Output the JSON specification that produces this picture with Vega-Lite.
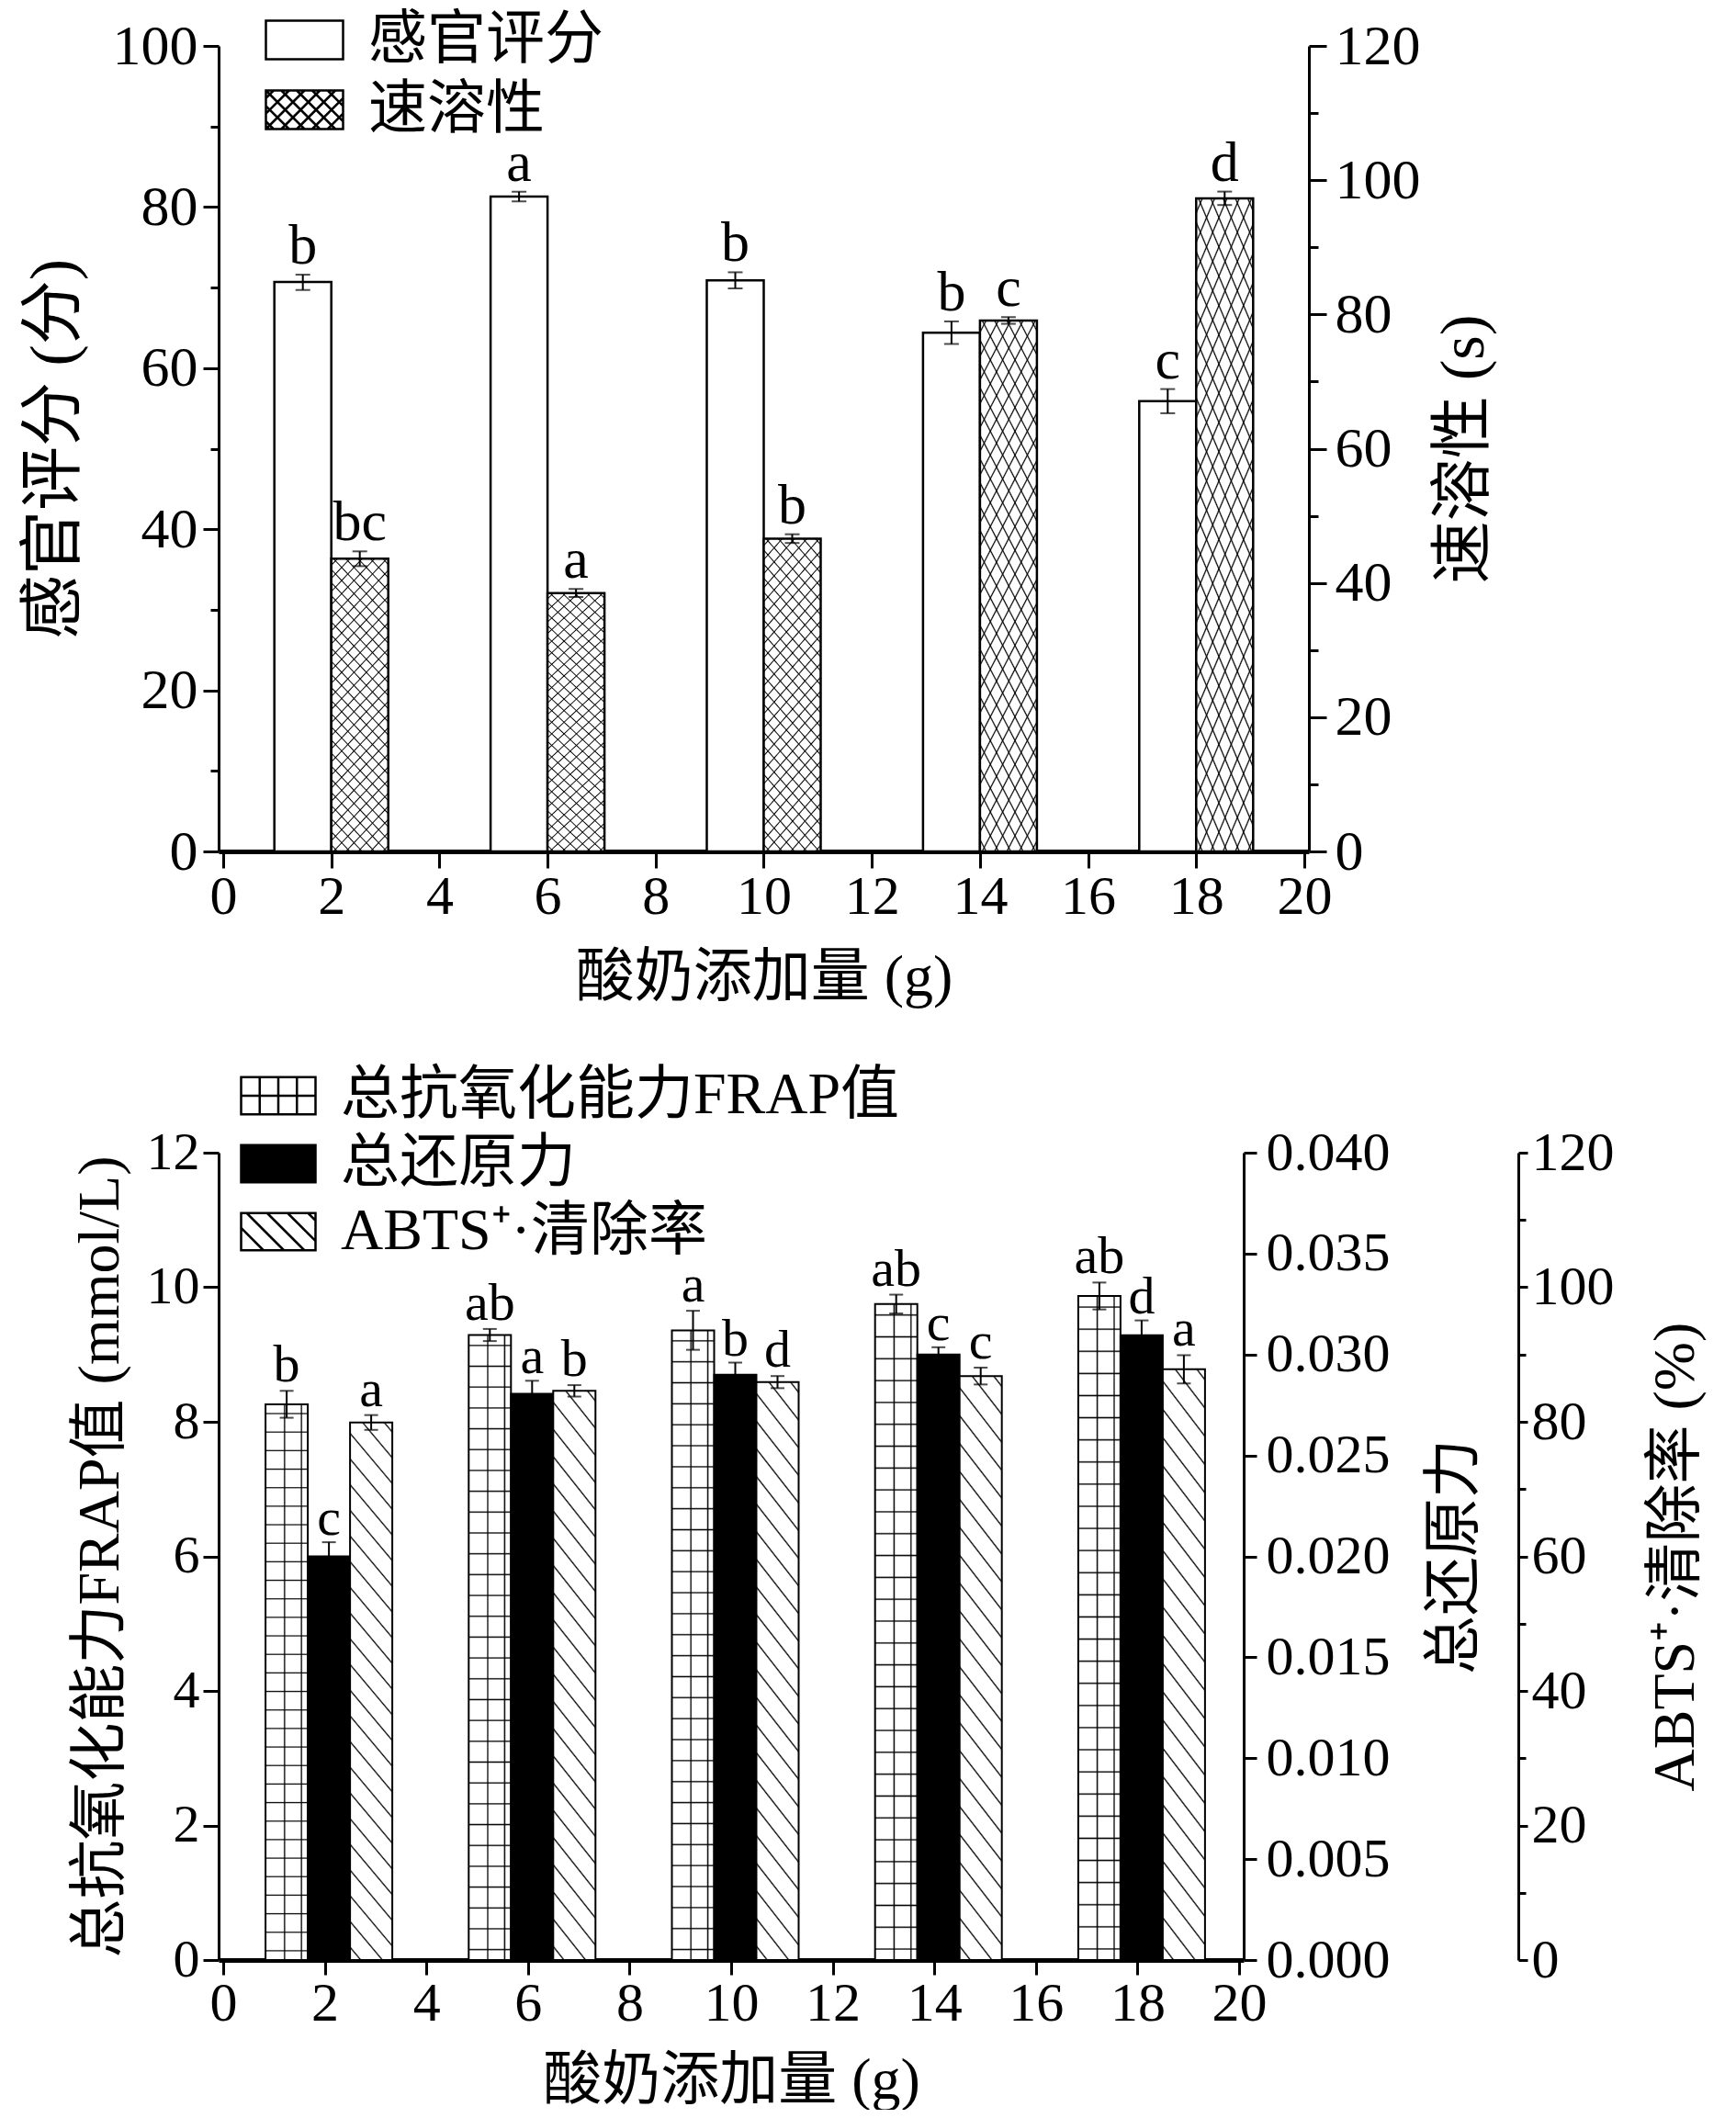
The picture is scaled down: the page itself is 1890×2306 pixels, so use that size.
{
"$schema": "https://vega.github.io/schema/vega-lite/v6.json",
"background": "white",
"padding": {"left": 24, "top": 0, "right": 5, "bottom": 0},
"config": {
  "view": {"stroke": null},
  "font": "Liberation Serif, Noto Sans CJK SC",
  "axis": {"domainColor": "black", "domainWidth": 3, "tickColor": "black", "tickWidth": 3, "tickSize": 17, "labelColor": "black", "labelFont": "Liberation Serif", "labelFontSize": 60, "labelPadding": 6, "labelFlush": false, "labelOverlap": false, "labelBound": false, "titleColor": "black", "titleFont": "Liberation Serif, Noto Sans CJK SC", "titleFontSize": 64, "titleFontWeight": "normal", "grid": false, "zindex": 1},
  "legend": {"orient": "none", "title": null, "padding": 0, "labelFont": "Liberation Serif, Noto Sans CJK SC", "labelFontSize": 64, "labelColor": "black", "labelLimit": 0, "symbolStrokeColor": "black", "symbolStrokeWidth": 2.5, "symbolType": "M-1,-0.5H1V0.5H-1Z", "rowPadding": 0, "labelOffset": 26, "symbolOpacity": 1}
},
"datasets": {
  "top": [
    {"dose": 2, "series": "感官评分", "value": 70.7, "lo": 69.7, "hi": 71.6, "sig": "b"},
    {"dose": 6, "series": "感官评分", "value": 81.3, "lo": 80.7, "hi": 81.9, "sig": "a"},
    {"dose": 10, "series": "感官评分", "value": 70.9, "lo": 69.9, "hi": 71.9, "sig": "b"},
    {"dose": 14, "series": "感官评分", "value": 64.4, "lo": 63.0, "hi": 65.8, "sig": "b"},
    {"dose": 18, "series": "感官评分", "value": 55.9, "lo": 54.4, "hi": 57.4, "sig": "c"},
    {"dose": 2, "series": "速溶性", "value": 43.6, "lo": 42.5, "hi": 44.7, "sig": "bc"},
    {"dose": 6, "series": "速溶性", "value": 38.5, "lo": 37.9, "hi": 39.1, "sig": "a"},
    {"dose": 10, "series": "速溶性", "value": 46.6, "lo": 45.95, "hi": 47.25, "sig": "b"},
    {"dose": 14, "series": "速溶性", "value": 79.1, "lo": 78.6, "hi": 79.6, "sig": "c"},
    {"dose": 18, "series": "速溶性", "value": 97.3, "lo": 96.3, "hi": 98.3, "sig": "d"}
  ],
  "bottom": [
    {"dose": 2, "series": "总抗氧化能力FRAP值", "value": 8.26, "lo": 8.06, "hi": 8.46, "sig": "b"},
    {"dose": 6, "series": "总抗氧化能力FRAP值", "value": 9.29, "lo": 9.2, "hi": 9.38, "sig": "ab"},
    {"dose": 10, "series": "总抗氧化能力FRAP值", "value": 9.36, "lo": 9.07, "hi": 9.65, "sig": "a"},
    {"dose": 14, "series": "总抗氧化能力FRAP值", "value": 9.75, "lo": 9.61, "hi": 9.89, "sig": "ab"},
    {"dose": 18, "series": "总抗氧化能力FRAP值", "value": 9.87, "lo": 9.67, "hi": 10.07, "sig": "ab"},
    {"dose": 2, "series": "总还原力", "value": 0.0200, "lo": 0.0193, "hi": 0.0207, "sig": "c"},
    {"dose": 6, "series": "总还原力", "value": 0.02805, "lo": 0.0274, "hi": 0.0287, "sig": "a"},
    {"dose": 10, "series": "总还原力", "value": 0.0290, "lo": 0.0284, "hi": 0.0296, "sig": "b"},
    {"dose": 14, "series": "总还原力", "value": 0.0300, "lo": 0.02964, "hi": 0.03036, "sig": "c"},
    {"dose": 18, "series": "总还原力", "value": 0.03096, "lo": 0.03023, "hi": 0.03169, "sig": "d"},
    {"dose": 2, "series": "ABTS⁺·清除率", "value": 79.9, "lo": 78.8, "hi": 81.0, "sig": "a"},
    {"dose": 6, "series": "ABTS⁺·清除率", "value": 84.6, "lo": 83.75, "hi": 85.45, "sig": "b"},
    {"dose": 10, "series": "ABTS⁺·清除率", "value": 85.9, "lo": 85.0, "hi": 86.8, "sig": "d"},
    {"dose": 14, "series": "ABTS⁺·清除率", "value": 86.8, "lo": 85.55, "hi": 88.05, "sig": "c"},
    {"dose": 18, "series": "ABTS⁺·清除率", "value": 87.8, "lo": 85.7, "hi": 89.9, "sig": "a"}
  ]
},
"spacing": 55,
"resolve": {"scale": {"fill": "independent"}, "legend": {"fill": "independent"}},
"vconcat": [
{
  "width": 1187, "height": 877,
  "resolve": {"scale": {"y": "independent"}},
  "encoding": {"x": {"field": "dose", "type": "quantitative", "scale": {"domain": [0, 20], "nice": false}, "axis": {"orient": "bottom", "values": [0, 2, 4, 6, 8, 10, 12, 14, 16, 18, 20], "title": "酸奶添加量 (g)", "tickSize": 18, "labelPadding": 2, "titlePadding": 26, "domainWidth": 5}}},
  "layer": [
    {
      "data": {"name": "top"},
      "transform": [{"filter": "datum.series === '感官评分'"}],
      "layer": [
        {"mark": {"type": "bar", "stroke": "black", "strokeWidth": 2.5, "width": 62, "xOffset": -31},
         "encoding": {
           "y": {"field": "value", "type": "quantitative", "scale": {"domain": [0, 100]}, "axis": null},
           "fill": {"field": "series", "type": "nominal", "scale": {"domain": ["感官评分", "速溶性"], "range": ["white", "white"]},
             "legend": {"legendX": 50, "legendY": -50, "symbolSize": 7056, "rowPadding": -5,
               "encoding": {"symbols": {"shape": {"value": "M-1,-0.5H1V0.5H-1Z", "condition": {"test": "datum.value === '速溶性'", "value": "M-1,-0.5H1V0.5H-1Z M-1,0.3L-0.8,0.5 M-1,-0.1L-0.4,0.5 M-1,-0.5L0,0.5 M-0.6,-0.5L0.4,0.5 M-0.2,-0.5L0.8,0.5 M0.2,-0.5L1,0.3 M0.6,-0.5L1,-0.1 M-1,-0.3L-0.8,-0.5 M-1,0.1L-0.4,-0.5 M-1,0.5L0,-0.5 M-0.6,0.5L0.4,-0.5 M-0.2,0.5L0.8,-0.5 M0.2,0.5L1,-0.3 M0.6,0.5L1,0.1"}}}}}}
         }},
        {"mark": {"type": "rule", "color": "black", "strokeWidth": 2, "xOffset": -31}, "encoding": {"y": {"field": "lo", "type": "quantitative", "axis": null}, "y2": {"field": "hi"}}},
        {"mark": {"type": "tick", "orient": "horizontal", "color": "black", "size": 16, "thickness": 2, "xOffset": -31}, "encoding": {"y": {"field": "lo", "type": "quantitative", "axis": null}}},
        {"mark": {"type": "tick", "orient": "horizontal", "color": "black", "size": 16, "thickness": 2, "xOffset": -31}, "encoding": {"y": {"field": "hi", "type": "quantitative", "axis": null}}},
        {"mark": {"type": "text", "font": "Liberation Serif", "fontSize": 62, "color": "black", "baseline": "alphabetic", "dy": -12, "xOffset": -31}, "encoding": {"y": {"field": "hi", "type": "quantitative", "axis": null}, "text": {"field": "sig"}}}
      ]
    },
    {
      "data": {"name": "top"},
      "transform": [{"filter": "datum.series === '速溶性'"}],
      "layer": [
        {"mark": {"type": "bar", "strokeWidth": 0, "width": 62, "xOffset": 31},
         "encoding": {
           "y": {"field": "value", "type": "quantitative", "scale": {"domain": [0, 120]}, "axis": null},
           "fill": {"field": "series", "type": "nominal", "scale": {"domain": ["感官评分", "速溶性"], "range": ["white", "white"]}, "legend": null}
         }},
        {"mark": {"type": "bar", "strokeWidth": 0, "width": 62, "xOffset": 31, "fill": {"gradient": "linear", "x1": 0, "y1": 0, "x2": 0.24, "y2": 1.16, "stops": [
          {"offset":0.0148,"color":"rgba(0,0,0,0)"},{"offset":0.0185,"color":"#000"},{"offset":0.0222,"color":"rgba(0,0,0,0)"},
          {"offset":0.0519,"color":"rgba(0,0,0,0)"},{"offset":0.0556,"color":"#000"},{"offset":0.0593,"color":"rgba(0,0,0,0)"},
          {"offset":0.0889,"color":"rgba(0,0,0,0)"},{"offset":0.0926,"color":"#000"},{"offset":0.0963,"color":"rgba(0,0,0,0)"},
          {"offset":0.1259,"color":"rgba(0,0,0,0)"},{"offset":0.1296,"color":"#000"},{"offset":0.1333,"color":"rgba(0,0,0,0)"},
          {"offset":0.1630,"color":"rgba(0,0,0,0)"},{"offset":0.1667,"color":"#000"},{"offset":0.1704,"color":"rgba(0,0,0,0)"},
          {"offset":0.2000,"color":"rgba(0,0,0,0)"},{"offset":0.2037,"color":"#000"},{"offset":0.2074,"color":"rgba(0,0,0,0)"},
          {"offset":0.2370,"color":"rgba(0,0,0,0)"},{"offset":0.2407,"color":"#000"},{"offset":0.2444,"color":"rgba(0,0,0,0)"},
          {"offset":0.2741,"color":"rgba(0,0,0,0)"},{"offset":0.2778,"color":"#000"},{"offset":0.2815,"color":"rgba(0,0,0,0)"},
          {"offset":0.3111,"color":"rgba(0,0,0,0)"},{"offset":0.3148,"color":"#000"},{"offset":0.3185,"color":"rgba(0,0,0,0)"},
          {"offset":0.3481,"color":"rgba(0,0,0,0)"},{"offset":0.3519,"color":"#000"},{"offset":0.3556,"color":"rgba(0,0,0,0)"},
          {"offset":0.3852,"color":"rgba(0,0,0,0)"},{"offset":0.3889,"color":"#000"},{"offset":0.3926,"color":"rgba(0,0,0,0)"},
          {"offset":0.4222,"color":"rgba(0,0,0,0)"},{"offset":0.4259,"color":"#000"},{"offset":0.4296,"color":"rgba(0,0,0,0)"},
          {"offset":0.4593,"color":"rgba(0,0,0,0)"},{"offset":0.4630,"color":"#000"},{"offset":0.4667,"color":"rgba(0,0,0,0)"},
          {"offset":0.4963,"color":"rgba(0,0,0,0)"},{"offset":0.5000,"color":"#000"},{"offset":0.5037,"color":"rgba(0,0,0,0)"},
          {"offset":0.5333,"color":"rgba(0,0,0,0)"},{"offset":0.5370,"color":"#000"},{"offset":0.5407,"color":"rgba(0,0,0,0)"},
          {"offset":0.5704,"color":"rgba(0,0,0,0)"},{"offset":0.5741,"color":"#000"},{"offset":0.5778,"color":"rgba(0,0,0,0)"},
          {"offset":0.6074,"color":"rgba(0,0,0,0)"},{"offset":0.6111,"color":"#000"},{"offset":0.6148,"color":"rgba(0,0,0,0)"},
          {"offset":0.6444,"color":"rgba(0,0,0,0)"},{"offset":0.6481,"color":"#000"},{"offset":0.6519,"color":"rgba(0,0,0,0)"},
          {"offset":0.6815,"color":"rgba(0,0,0,0)"},{"offset":0.6852,"color":"#000"},{"offset":0.6889,"color":"rgba(0,0,0,0)"},
          {"offset":0.7185,"color":"rgba(0,0,0,0)"},{"offset":0.7222,"color":"#000"},{"offset":0.7259,"color":"rgba(0,0,0,0)"},
          {"offset":0.7556,"color":"rgba(0,0,0,0)"},{"offset":0.7593,"color":"#000"},{"offset":0.7630,"color":"rgba(0,0,0,0)"},
          {"offset":0.7926,"color":"rgba(0,0,0,0)"},{"offset":0.7963,"color":"#000"},{"offset":0.8000,"color":"rgba(0,0,0,0)"},
          {"offset":0.8296,"color":"rgba(0,0,0,0)"},{"offset":0.8333,"color":"#000"},{"offset":0.8370,"color":"rgba(0,0,0,0)"},
          {"offset":0.8667,"color":"rgba(0,0,0,0)"},{"offset":0.8704,"color":"#000"},{"offset":0.8741,"color":"rgba(0,0,0,0)"},
          {"offset":0.9037,"color":"rgba(0,0,0,0)"},{"offset":0.9074,"color":"#000"},{"offset":0.9111,"color":"rgba(0,0,0,0)"},
          {"offset":0.9407,"color":"rgba(0,0,0,0)"},{"offset":0.9444,"color":"#000"},{"offset":0.9481,"color":"rgba(0,0,0,0)"},
          {"offset":0.9778,"color":"rgba(0,0,0,0)"},{"offset":0.9815,"color":"#000"},{"offset":0.9852,"color":"rgba(0,0,0,0)"}
        ]}}, "encoding": {"y": {"field": "value", "type": "quantitative", "axis": null}}},
        {"mark": {"type": "bar", "stroke": "black", "strokeWidth": 2.5, "width": 62, "xOffset": 31, "fill": {"gradient": "linear", "x1": 0, "y1": 1, "x2": 0.24, "y2": -0.16, "stops": [
          {"offset":0.0148,"color":"rgba(0,0,0,0)"},{"offset":0.0185,"color":"#000"},{"offset":0.0222,"color":"rgba(0,0,0,0)"},
          {"offset":0.0519,"color":"rgba(0,0,0,0)"},{"offset":0.0556,"color":"#000"},{"offset":0.0593,"color":"rgba(0,0,0,0)"},
          {"offset":0.0889,"color":"rgba(0,0,0,0)"},{"offset":0.0926,"color":"#000"},{"offset":0.0963,"color":"rgba(0,0,0,0)"},
          {"offset":0.1259,"color":"rgba(0,0,0,0)"},{"offset":0.1296,"color":"#000"},{"offset":0.1333,"color":"rgba(0,0,0,0)"},
          {"offset":0.1630,"color":"rgba(0,0,0,0)"},{"offset":0.1667,"color":"#000"},{"offset":0.1704,"color":"rgba(0,0,0,0)"},
          {"offset":0.2000,"color":"rgba(0,0,0,0)"},{"offset":0.2037,"color":"#000"},{"offset":0.2074,"color":"rgba(0,0,0,0)"},
          {"offset":0.2370,"color":"rgba(0,0,0,0)"},{"offset":0.2407,"color":"#000"},{"offset":0.2444,"color":"rgba(0,0,0,0)"},
          {"offset":0.2741,"color":"rgba(0,0,0,0)"},{"offset":0.2778,"color":"#000"},{"offset":0.2815,"color":"rgba(0,0,0,0)"},
          {"offset":0.3111,"color":"rgba(0,0,0,0)"},{"offset":0.3148,"color":"#000"},{"offset":0.3185,"color":"rgba(0,0,0,0)"},
          {"offset":0.3481,"color":"rgba(0,0,0,0)"},{"offset":0.3519,"color":"#000"},{"offset":0.3556,"color":"rgba(0,0,0,0)"},
          {"offset":0.3852,"color":"rgba(0,0,0,0)"},{"offset":0.3889,"color":"#000"},{"offset":0.3926,"color":"rgba(0,0,0,0)"},
          {"offset":0.4222,"color":"rgba(0,0,0,0)"},{"offset":0.4259,"color":"#000"},{"offset":0.4296,"color":"rgba(0,0,0,0)"},
          {"offset":0.4593,"color":"rgba(0,0,0,0)"},{"offset":0.4630,"color":"#000"},{"offset":0.4667,"color":"rgba(0,0,0,0)"},
          {"offset":0.4963,"color":"rgba(0,0,0,0)"},{"offset":0.5000,"color":"#000"},{"offset":0.5037,"color":"rgba(0,0,0,0)"},
          {"offset":0.5333,"color":"rgba(0,0,0,0)"},{"offset":0.5370,"color":"#000"},{"offset":0.5407,"color":"rgba(0,0,0,0)"},
          {"offset":0.5704,"color":"rgba(0,0,0,0)"},{"offset":0.5741,"color":"#000"},{"offset":0.5778,"color":"rgba(0,0,0,0)"},
          {"offset":0.6074,"color":"rgba(0,0,0,0)"},{"offset":0.6111,"color":"#000"},{"offset":0.6148,"color":"rgba(0,0,0,0)"},
          {"offset":0.6444,"color":"rgba(0,0,0,0)"},{"offset":0.6481,"color":"#000"},{"offset":0.6519,"color":"rgba(0,0,0,0)"},
          {"offset":0.6815,"color":"rgba(0,0,0,0)"},{"offset":0.6852,"color":"#000"},{"offset":0.6889,"color":"rgba(0,0,0,0)"},
          {"offset":0.7185,"color":"rgba(0,0,0,0)"},{"offset":0.7222,"color":"#000"},{"offset":0.7259,"color":"rgba(0,0,0,0)"},
          {"offset":0.7556,"color":"rgba(0,0,0,0)"},{"offset":0.7593,"color":"#000"},{"offset":0.7630,"color":"rgba(0,0,0,0)"},
          {"offset":0.7926,"color":"rgba(0,0,0,0)"},{"offset":0.7963,"color":"#000"},{"offset":0.8000,"color":"rgba(0,0,0,0)"},
          {"offset":0.8296,"color":"rgba(0,0,0,0)"},{"offset":0.8333,"color":"#000"},{"offset":0.8370,"color":"rgba(0,0,0,0)"},
          {"offset":0.8667,"color":"rgba(0,0,0,0)"},{"offset":0.8704,"color":"#000"},{"offset":0.8741,"color":"rgba(0,0,0,0)"},
          {"offset":0.9037,"color":"rgba(0,0,0,0)"},{"offset":0.9074,"color":"#000"},{"offset":0.9111,"color":"rgba(0,0,0,0)"},
          {"offset":0.9407,"color":"rgba(0,0,0,0)"},{"offset":0.9444,"color":"#000"},{"offset":0.9481,"color":"rgba(0,0,0,0)"},
          {"offset":0.9778,"color":"rgba(0,0,0,0)"},{"offset":0.9815,"color":"#000"},{"offset":0.9852,"color":"rgba(0,0,0,0)"}
        ]}}, "encoding": {"y": {"field": "value", "type": "quantitative", "axis": null}}},
        {"mark": {"type": "rule", "color": "black", "strokeWidth": 2, "xOffset": 31}, "encoding": {"y": {"field": "lo", "type": "quantitative", "axis": null}, "y2": {"field": "hi"}}},
        {"mark": {"type": "tick", "orient": "horizontal", "color": "black", "size": 16, "thickness": 2, "xOffset": 31}, "encoding": {"y": {"field": "lo", "type": "quantitative", "axis": null}}},
        {"mark": {"type": "tick", "orient": "horizontal", "color": "black", "size": 16, "thickness": 2, "xOffset": 31}, "encoding": {"y": {"field": "hi", "type": "quantitative", "axis": null}}},
        {"mark": {"type": "text", "font": "Liberation Serif", "fontSize": 62, "color": "black", "baseline": "alphabetic", "dy": -12, "xOffset": 31}, "encoding": {"y": {"field": "hi", "type": "quantitative", "axis": null}, "text": {"field": "sig"}}}
      ]
    },
    {
      "data": {"name": "top"},
      "transform": [{"filter": "datum.series === '感官评分'"}],
      "mark": {"type": "point", "opacity": 0},
      "encoding": {"y": {"field": "value", "type": "quantitative", "scale": {"domain": [0, 100]}, "axis": {"orient": "left", "values": [0, 20, 40, 60, 80, 100], "title": "感官评分 (分)", "titleFontSize": 70, "labelFontSize": 62, "titlePadding": 27, "labelPadding": 6}}}
    },
    {
      "data": {"name": "top"},
      "transform": [{"filter": "datum.series === '感官评分'"}],
      "mark": {"type": "point", "opacity": 0},
      "encoding": {"y": {"field": "value", "type": "quantitative", "scale": {"domain": [0, 100]}, "axis": {"orient": "left", "values": [10, 30, 50, 70, 90], "labels": false, "domain": false, "tickSize": 9, "title": null}}}
    },
    {
      "data": {"name": "top"},
      "transform": [{"filter": "datum.series === '速溶性'"}],
      "mark": {"type": "point", "opacity": 0},
      "encoding": {"y": {"field": "value", "type": "quantitative", "scale": {"domain": [0, 120]}, "axis": {"orient": "right", "values": [0, 20, 40, 60, 80, 100, 120], "title": "速溶性 (s)", "titleFontSize": 68, "titleAngle": 270, "titleBaseline": "top", "labelFontSize": 62, "tickSize": 19, "labelPadding": 9, "titlePadding": 14}}}
    },
    {
      "data": {"name": "top"},
      "transform": [{"filter": "datum.series === '速溶性'"}],
      "mark": {"type": "point", "opacity": 0},
      "encoding": {"y": {"field": "value", "type": "quantitative", "scale": {"domain": [0, 120]}, "axis": {"orient": "right", "values": [10, 30, 50, 70, 90, 110], "labels": false, "domain": false, "tickSize": 10, "title": null}}}
    }
  ]
},
{
  "width": 1116, "height": 879,
  "resolve": {"scale": {"y": "independent"}},
  "encoding": {"x": {"field": "dose", "type": "quantitative", "scale": {"domain": [0, 20], "nice": false}, "axis": {"orient": "bottom", "values": [0, 2, 4, 6, 8, 10, 12, 14, 16, 18, 20], "title": "酸奶添加量 (g)", "tickSize": 16, "labelPadding": 2, "titlePadding": 22, "domainWidth": 5}}},
  "layer": [
    {
      "data": {"name": "bottom"},
      "transform": [{"filter": "datum.series === '总抗氧化能力FRAP值'"}],
      "layer": [
        {"mark": {"type": "bar", "strokeWidth": 0, "width": 46, "xOffset": -41.5},
         "encoding": {
           "y": {"field": "value", "type": "quantitative", "scale": {"domain": [0, 12]}, "axis": null},
           "fill": {"field": "series", "type": "nominal", "scale": {"domain": ["总抗氧化能力FRAP值", "总还原力", "ABTS⁺·清除率"], "range": ["white", "black", "white"]},
             "legend": {"legendX": 23, "legendY": -104, "symbolSize": 6561, "rowPadding": -2,
               "encoding": {"symbols": {"shape": {"value": "M-1,-0.5H1V0.5H-1Z", "condition": [
                 {"test": "datum.value === '总抗氧化能力FRAP值'", "value": "M-1,-0.5H1V0.5H-1Z M-1,0H1 M-0.5,-0.5V0.5 M0,-0.5V0.5 M0.5,-0.5V0.5"},
                 {"test": "datum.value === 'ABTS⁺·清除率'", "value": "M-1,-0.5H1V0.5H-1Z M-1,-0.1L-0.4,0.5 M-0.85,-0.5L0.15,0.5 M-0.3,-0.5L0.7,0.5 M0.25,-0.5L1,0.25 M0.8,-0.5L1,-0.3"}
               ]}}}}}
         }},
        {"mark": {"type": "bar", "strokeWidth": 0, "width": 46, "xOffset": -41.5, "fill": {"gradient": "linear", "x1": 0, "y1": 0, "x2": 0, "y2": 1, "stops": [
          {"offset":0.0147,"color":"rgba(0,0,0,0)"},{"offset":0.0167,"color":"#000"},{"offset":0.0187,"color":"rgba(0,0,0,0)"},
          {"offset":0.0480,"color":"rgba(0,0,0,0)"},{"offset":0.0500,"color":"#000"},{"offset":0.0520,"color":"rgba(0,0,0,0)"},
          {"offset":0.0813,"color":"rgba(0,0,0,0)"},{"offset":0.0833,"color":"#000"},{"offset":0.0853,"color":"rgba(0,0,0,0)"},
          {"offset":0.1147,"color":"rgba(0,0,0,0)"},{"offset":0.1167,"color":"#000"},{"offset":0.1187,"color":"rgba(0,0,0,0)"},
          {"offset":0.1480,"color":"rgba(0,0,0,0)"},{"offset":0.1500,"color":"#000"},{"offset":0.1520,"color":"rgba(0,0,0,0)"},
          {"offset":0.1813,"color":"rgba(0,0,0,0)"},{"offset":0.1833,"color":"#000"},{"offset":0.1853,"color":"rgba(0,0,0,0)"},
          {"offset":0.2147,"color":"rgba(0,0,0,0)"},{"offset":0.2167,"color":"#000"},{"offset":0.2187,"color":"rgba(0,0,0,0)"},
          {"offset":0.2480,"color":"rgba(0,0,0,0)"},{"offset":0.2500,"color":"#000"},{"offset":0.2520,"color":"rgba(0,0,0,0)"},
          {"offset":0.2813,"color":"rgba(0,0,0,0)"},{"offset":0.2833,"color":"#000"},{"offset":0.2853,"color":"rgba(0,0,0,0)"},
          {"offset":0.3147,"color":"rgba(0,0,0,0)"},{"offset":0.3167,"color":"#000"},{"offset":0.3187,"color":"rgba(0,0,0,0)"},
          {"offset":0.3480,"color":"rgba(0,0,0,0)"},{"offset":0.3500,"color":"#000"},{"offset":0.3520,"color":"rgba(0,0,0,0)"},
          {"offset":0.3813,"color":"rgba(0,0,0,0)"},{"offset":0.3833,"color":"#000"},{"offset":0.3853,"color":"rgba(0,0,0,0)"},
          {"offset":0.4147,"color":"rgba(0,0,0,0)"},{"offset":0.4167,"color":"#000"},{"offset":0.4187,"color":"rgba(0,0,0,0)"},
          {"offset":0.4480,"color":"rgba(0,0,0,0)"},{"offset":0.4500,"color":"#000"},{"offset":0.4520,"color":"rgba(0,0,0,0)"},
          {"offset":0.4813,"color":"rgba(0,0,0,0)"},{"offset":0.4833,"color":"#000"},{"offset":0.4853,"color":"rgba(0,0,0,0)"},
          {"offset":0.5147,"color":"rgba(0,0,0,0)"},{"offset":0.5167,"color":"#000"},{"offset":0.5187,"color":"rgba(0,0,0,0)"},
          {"offset":0.5480,"color":"rgba(0,0,0,0)"},{"offset":0.5500,"color":"#000"},{"offset":0.5520,"color":"rgba(0,0,0,0)"},
          {"offset":0.5813,"color":"rgba(0,0,0,0)"},{"offset":0.5833,"color":"#000"},{"offset":0.5853,"color":"rgba(0,0,0,0)"},
          {"offset":0.6147,"color":"rgba(0,0,0,0)"},{"offset":0.6167,"color":"#000"},{"offset":0.6187,"color":"rgba(0,0,0,0)"},
          {"offset":0.6480,"color":"rgba(0,0,0,0)"},{"offset":0.6500,"color":"#000"},{"offset":0.6520,"color":"rgba(0,0,0,0)"},
          {"offset":0.6813,"color":"rgba(0,0,0,0)"},{"offset":0.6833,"color":"#000"},{"offset":0.6853,"color":"rgba(0,0,0,0)"},
          {"offset":0.7147,"color":"rgba(0,0,0,0)"},{"offset":0.7167,"color":"#000"},{"offset":0.7187,"color":"rgba(0,0,0,0)"},
          {"offset":0.7480,"color":"rgba(0,0,0,0)"},{"offset":0.7500,"color":"#000"},{"offset":0.7520,"color":"rgba(0,0,0,0)"},
          {"offset":0.7813,"color":"rgba(0,0,0,0)"},{"offset":0.7833,"color":"#000"},{"offset":0.7853,"color":"rgba(0,0,0,0)"},
          {"offset":0.8147,"color":"rgba(0,0,0,0)"},{"offset":0.8167,"color":"#000"},{"offset":0.8187,"color":"rgba(0,0,0,0)"},
          {"offset":0.8480,"color":"rgba(0,0,0,0)"},{"offset":0.8500,"color":"#000"},{"offset":0.8520,"color":"rgba(0,0,0,0)"},
          {"offset":0.8813,"color":"rgba(0,0,0,0)"},{"offset":0.8833,"color":"#000"},{"offset":0.8853,"color":"rgba(0,0,0,0)"},
          {"offset":0.9147,"color":"rgba(0,0,0,0)"},{"offset":0.9167,"color":"#000"},{"offset":0.9187,"color":"rgba(0,0,0,0)"},
          {"offset":0.9480,"color":"rgba(0,0,0,0)"},{"offset":0.9500,"color":"#000"},{"offset":0.9520,"color":"rgba(0,0,0,0)"},
          {"offset":0.9813,"color":"rgba(0,0,0,0)"},{"offset":0.9833,"color":"#000"},{"offset":0.9853,"color":"rgba(0,0,0,0)"}
        ]}}, "encoding": {"y": {"field": "value", "type": "quantitative", "axis": null}}},
        {"mark": {"type": "bar", "stroke": "black", "strokeWidth": 2, "width": 46, "xOffset": -41.5, "fill": {"gradient": "linear", "x1": 0, "y1": 0, "x2": 1, "y2": 0, "stops": [
          {"offset":0.42,"color":"rgba(0,0,0,0)"},{"offset":0.45,"color":"#000"},{"offset":0.48,"color":"rgba(0,0,0,0)"},
          {"offset":0.82,"color":"rgba(0,0,0,0)"},{"offset":0.85,"color":"#000"},{"offset":0.88,"color":"rgba(0,0,0,0)"}
        ]}}, "encoding": {"y": {"field": "value", "type": "quantitative", "axis": null}}},
        {"mark": {"type": "rule", "color": "black", "strokeWidth": 2, "xOffset": -41.5}, "encoding": {"y": {"field": "lo", "type": "quantitative", "axis": null}, "y2": {"field": "hi"}}},
        {"mark": {"type": "tick", "orient": "horizontal", "color": "black", "size": 15, "thickness": 2, "xOffset": -41.5}, "encoding": {"y": {"field": "lo", "type": "quantitative", "axis": null}}},
        {"mark": {"type": "tick", "orient": "horizontal", "color": "black", "size": 15, "thickness": 2, "xOffset": -41.5}, "encoding": {"y": {"field": "hi", "type": "quantitative", "axis": null}}},
        {"mark": {"type": "text", "font": "Liberation Serif", "fontSize": 58, "color": "black", "baseline": "alphabetic", "dy": -10, "xOffset": -41.5}, "encoding": {"y": {"field": "hi", "type": "quantitative", "axis": null}, "text": {"field": "sig"}}}
      ]
    },
    {
      "data": {"name": "bottom"},
      "transform": [{"filter": "datum.series === '总还原力'"}],
      "layer": [
        {"mark": {"type": "bar", "stroke": "black", "strokeWidth": 2, "width": 46, "xOffset": 4.5},
         "encoding": {
           "y": {"field": "value", "type": "quantitative", "scale": {"domain": [0, 0.04]}, "axis": null},
           "fill": {"field": "series", "type": "nominal", "scale": {"domain": ["总抗氧化能力FRAP值", "总还原力", "ABTS⁺·清除率"], "range": ["white", "black", "white"]}, "legend": null}
         }},
        {"mark": {"type": "rule", "color": "black", "strokeWidth": 2, "xOffset": 4.5}, "encoding": {"y": {"field": "lo", "type": "quantitative", "axis": null}, "y2": {"field": "hi"}}},
        {"mark": {"type": "tick", "orient": "horizontal", "color": "black", "size": 15, "thickness": 2, "xOffset": 4.5}, "encoding": {"y": {"field": "lo", "type": "quantitative", "axis": null}}},
        {"mark": {"type": "tick", "orient": "horizontal", "color": "black", "size": 15, "thickness": 2, "xOffset": 4.5}, "encoding": {"y": {"field": "hi", "type": "quantitative", "axis": null}}},
        {"mark": {"type": "text", "font": "Liberation Serif", "fontSize": 58, "color": "black", "baseline": "alphabetic", "dy": -8, "xOffset": 4.5}, "encoding": {"y": {"field": "hi", "type": "quantitative", "axis": null}, "text": {"field": "sig"}}}
      ]
    },
    {
      "data": {"name": "bottom"},
      "transform": [{"filter": "datum.series === 'ABTS⁺·清除率'"}],
      "layer": [
        {"mark": {"type": "bar", "strokeWidth": 0, "width": 46, "xOffset": 50.5},
         "encoding": {
           "y": {"field": "value", "type": "quantitative", "scale": {"domain": [0, 120]}, "axis": null},
           "fill": {"field": "series", "type": "nominal", "scale": {"domain": ["总抗氧化能力FRAP值", "总还原力", "ABTS⁺·清除率"], "range": ["white", "black", "white"]}, "legend": null}
         }},
        {"mark": {"type": "bar", "stroke": "black", "strokeWidth": 2, "width": 46, "xOffset": 50.5, "fill": {"gradient": "linear", "x1": 0, "y1": 1, "x2": 0.102, "y2": -0.09, "stops": [
          {"offset":0.0187,"color":"rgba(0,0,0,0)"},{"offset":0.0217,"color":"#000"},{"offset":0.0248,"color":"rgba(0,0,0,0)"},
          {"offset":0.0622,"color":"rgba(0,0,0,0)"},{"offset":0.0652,"color":"#000"},{"offset":0.0683,"color":"rgba(0,0,0,0)"},
          {"offset":0.1057,"color":"rgba(0,0,0,0)"},{"offset":0.1087,"color":"#000"},{"offset":0.1117,"color":"rgba(0,0,0,0)"},
          {"offset":0.1491,"color":"rgba(0,0,0,0)"},{"offset":0.1522,"color":"#000"},{"offset":0.1552,"color":"rgba(0,0,0,0)"},
          {"offset":0.1926,"color":"rgba(0,0,0,0)"},{"offset":0.1957,"color":"#000"},{"offset":0.1987,"color":"rgba(0,0,0,0)"},
          {"offset":0.2361,"color":"rgba(0,0,0,0)"},{"offset":0.2391,"color":"#000"},{"offset":0.2422,"color":"rgba(0,0,0,0)"},
          {"offset":0.2796,"color":"rgba(0,0,0,0)"},{"offset":0.2826,"color":"#000"},{"offset":0.2857,"color":"rgba(0,0,0,0)"},
          {"offset":0.3230,"color":"rgba(0,0,0,0)"},{"offset":0.3261,"color":"#000"},{"offset":0.3291,"color":"rgba(0,0,0,0)"},
          {"offset":0.3665,"color":"rgba(0,0,0,0)"},{"offset":0.3696,"color":"#000"},{"offset":0.3726,"color":"rgba(0,0,0,0)"},
          {"offset":0.4100,"color":"rgba(0,0,0,0)"},{"offset":0.4130,"color":"#000"},{"offset":0.4161,"color":"rgba(0,0,0,0)"},
          {"offset":0.4535,"color":"rgba(0,0,0,0)"},{"offset":0.4565,"color":"#000"},{"offset":0.4596,"color":"rgba(0,0,0,0)"},
          {"offset":0.4970,"color":"rgba(0,0,0,0)"},{"offset":0.5000,"color":"#000"},{"offset":0.5030,"color":"rgba(0,0,0,0)"},
          {"offset":0.5404,"color":"rgba(0,0,0,0)"},{"offset":0.5435,"color":"#000"},{"offset":0.5465,"color":"rgba(0,0,0,0)"},
          {"offset":0.5839,"color":"rgba(0,0,0,0)"},{"offset":0.5870,"color":"#000"},{"offset":0.5900,"color":"rgba(0,0,0,0)"},
          {"offset":0.6274,"color":"rgba(0,0,0,0)"},{"offset":0.6304,"color":"#000"},{"offset":0.6335,"color":"rgba(0,0,0,0)"},
          {"offset":0.6709,"color":"rgba(0,0,0,0)"},{"offset":0.6739,"color":"#000"},{"offset":0.6770,"color":"rgba(0,0,0,0)"},
          {"offset":0.7143,"color":"rgba(0,0,0,0)"},{"offset":0.7174,"color":"#000"},{"offset":0.7204,"color":"rgba(0,0,0,0)"},
          {"offset":0.7578,"color":"rgba(0,0,0,0)"},{"offset":0.7609,"color":"#000"},{"offset":0.7639,"color":"rgba(0,0,0,0)"},
          {"offset":0.8013,"color":"rgba(0,0,0,0)"},{"offset":0.8043,"color":"#000"},{"offset":0.8074,"color":"rgba(0,0,0,0)"},
          {"offset":0.8448,"color":"rgba(0,0,0,0)"},{"offset":0.8478,"color":"#000"},{"offset":0.8509,"color":"rgba(0,0,0,0)"},
          {"offset":0.8883,"color":"rgba(0,0,0,0)"},{"offset":0.8913,"color":"#000"},{"offset":0.8943,"color":"rgba(0,0,0,0)"},
          {"offset":0.9317,"color":"rgba(0,0,0,0)"},{"offset":0.9348,"color":"#000"},{"offset":0.9378,"color":"rgba(0,0,0,0)"},
          {"offset":0.9752,"color":"rgba(0,0,0,0)"},{"offset":0.9783,"color":"#000"},{"offset":0.9813,"color":"rgba(0,0,0,0)"}
        ]}}, "encoding": {"y": {"field": "value", "type": "quantitative", "axis": null}}},
        {"mark": {"type": "rule", "color": "black", "strokeWidth": 2, "xOffset": 50.5}, "encoding": {"y": {"field": "lo", "type": "quantitative", "axis": null}, "y2": {"field": "hi"}}},
        {"mark": {"type": "tick", "orient": "horizontal", "color": "black", "size": 15, "thickness": 2, "xOffset": 50.5}, "encoding": {"y": {"field": "lo", "type": "quantitative", "axis": null}}},
        {"mark": {"type": "tick", "orient": "horizontal", "color": "black", "size": 15, "thickness": 2, "xOffset": 50.5}, "encoding": {"y": {"field": "hi", "type": "quantitative", "axis": null}}},
        {"mark": {"type": "text", "font": "Liberation Serif", "fontSize": 58, "color": "black", "baseline": "alphabetic", "dy": -10, "xOffset": 50.5}, "encoding": {"y": {"field": "hi", "type": "quantitative", "axis": null}, "text": {"field": "sig"}}}
      ]
    },
    {
      "data": {"name": "bottom"},
      "transform": [{"filter": "datum.series === '总抗氧化能力FRAP值'"}],
      "mark": {"type": "point", "opacity": 0},
      "encoding": {"y": {"field": "value", "type": "quantitative", "scale": {"domain": [0, 12]}, "axis": {"orient": "left", "values": [0, 2, 4, 6, 8, 10, 12], "title": "总抗氧化能力FRAP值 (mmol/L)", "labelFontSize": 58, "labelPadding": 4, "titlePadding": 18}}}
    },
    {
      "data": {"name": "bottom"},
      "transform": [{"filter": "datum.series === '总还原力'"}],
      "mark": {"type": "point", "opacity": 0},
      "encoding": {"y": {"field": "value", "type": "quantitative", "scale": {"domain": [0, 0.04]}, "axis": {"orient": "right", "values": [0, 0.005, 0.01, 0.015, 0.02, 0.025, 0.03, 0.035, 0.04], "format": ".3f", "title": "总还原力", "titleAngle": 270, "titleBaseline": "top", "tickSize": 14, "labelPadding": 10, "titlePadding": 38}}}
    },
    {
      "data": {"name": "bottom"},
      "transform": [{"filter": "datum.series === 'ABTS⁺·清除率'"}],
      "mark": {"type": "point", "opacity": 0},
      "encoding": {"y": {"field": "value", "type": "quantitative", "scale": {"domain": [0, 120]}, "axis": {"orient": "right", "offset": 299, "values": [0, 20, 40, 60, 80, 100, 120], "title": "ABTS⁺·清除率 (%)", "titleAngle": 270, "titleBaseline": "top", "tickSize": 10, "labelPadding": 4, "titlePadding": 35}}}
    },
    {
      "data": {"name": "bottom"},
      "transform": [{"filter": "datum.series === 'ABTS⁺·清除率'"}],
      "mark": {"type": "point", "opacity": 0},
      "encoding": {"y": {"field": "value", "type": "quantitative", "scale": {"domain": [0, 120]}, "axis": {"orient": "right", "offset": 299, "values": [10, 30, 50, 70, 90, 110], "labels": false, "domain": false, "tickSize": 8, "title": null}}}
    }
  ]
}
]
}
